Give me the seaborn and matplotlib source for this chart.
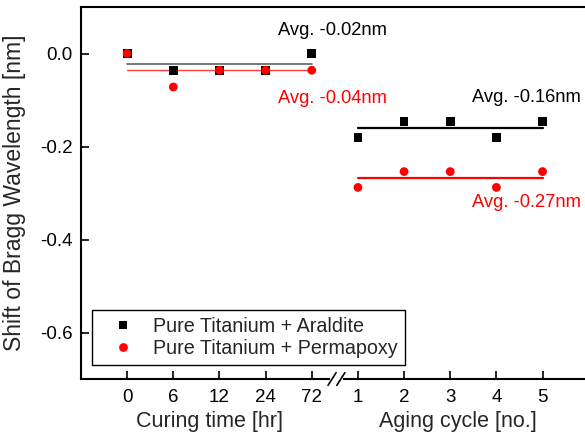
import numpy as np
import pandas as pd
import matplotlib
matplotlib.use("Agg")
import matplotlib.pyplot as plt
import seaborn as sns
from matplotlib.transforms import blended_transform_factory

# ---- data ----
curing_labels = ["0", "6", "12", "24", "72"]
aging_labels = ["1", "2", "3", "4", "5"]
araldite_curing = [0.0, -0.036, -0.036, -0.036, 0.0]
permapoxy_curing = [0.0, -0.072, -0.036, -0.036, -0.036]
araldite_aging = [-0.181, -0.146, -0.146, -0.181, -0.146]
permapoxy_aging = [-0.288, -0.254, -0.254, -0.288, -0.254]
series_names = ["Pure Titanium + Araldite", "Pure Titanium + Permapoxy"]
series_colors = ["#000000", "#ff0000"]
avg_texts = ["Avg. -0.02nm", "Avg. -0.04nm", "Avg. -0.16nm", "Avg. -0.27nm"]
x_titles = ["Curing time [hr]", "Aging cycle [no.]"]
y_title = "Shift of Bragg Wavelength [nm]"

tick_labels = curing_labels + aging_labels
pos = np.arange(len(tick_labels))

df = pd.DataFrame({
    "pos": np.concatenate([pos, pos]),
    "value": araldite_curing + araldite_aging + permapoxy_curing + permapoxy_aging,
    "series": [series_names[0]] * 10 + [series_names[1]] * 10,
})

sns.set_style("ticks")
plt.rcParams["font.family"] = ["Liberation Sans", "DejaVu Sans"]

fig = plt.figure(figsize=(5.85, 4.37), dpi=100)
ax = fig.add_axes([81 / 585, 1 - 379 / 437, 1 - 81 / 585, 372 / 437])

# average lines
n = len(curing_labels)
ax.plot([pos[0], pos[n - 1]], [np.mean(araldite_curing)] * 2, color="#606060", lw=1.2, zorder=2)
ax.plot([pos[0], pos[n - 1]], [np.mean(permapoxy_curing)] * 2, color="#ff4040", lw=1.0, zorder=2)
ax.plot([pos[n], pos[-1]], [np.mean(araldite_aging)] * 2, color="#000000", lw=1.6, zorder=2)
ax.plot([pos[n], pos[-1]], [np.mean(permapoxy_aging)] * 2, color="#ff0000", lw=1.6, zorder=2)

sns.scatterplot(data=df, x="pos", y="value", hue="series", style="series",
                palette=dict(zip(series_names, series_colors)),
                markers=dict(zip(series_names, ["s", "o"])),
                s=40, linewidth=0, ax=ax, zorder=3)

ax.set_xlim(-1, 9.92)
ax.set_ylim(-0.7, 0.1)
ax.set_xticks(pos)
ax.set_xticklabels(tick_labels)
ax.set_yticks([0.0, -0.2, -0.4, -0.6])
ax.set_yticklabels(["0.0", "-0.2", "-0.4", "-0.6"])
ax.tick_params(direction="in", length=6, width=1.2, labelsize=13.5, colors="black")
ax.tick_params(axis="x", pad=7)
ax.tick_params(axis="y", pad=6)
ax.set_xlabel("")
ax.set_ylabel(y_title, fontsize=16.5)
ax.yaxis.set_label_coords(-0.11, 0.5)

for side in ["left", "top", "bottom"]:
    ax.spines[side].set_linewidth(1.5)
    ax.spines[side].set_color("black")
ax.spines["right"].set_visible(False)

# axis titles
bt = blended_transform_factory(ax.transData, ax.transAxes)
ax.text(1.78, -0.113, x_titles[0], transform=bt, ha="center", va="center", fontsize=15.5)
ax.text(7.17, -0.113, x_titles[1], transform=bt, ha="center", va="center", fontsize=15.5)

# axis break marks
ax.plot([4.44, 4.63], [0, 0], transform=bt, color="white", lw=3, clip_on=False, zorder=5)
for cx in [4.44, 4.63]:
    ax.plot([cx - 0.087, cx + 0.087], [-0.017, 0.017], transform=bt, color="black",
            lw=1.2, clip_on=False, zorder=6)

# annotations
ax.text(4.44, 0.049, avg_texts[0], color="black", ha="center", va="center", fontsize=13.2)
ax.text(4.44, -0.097, avg_texts[1], color="#ff0000", ha="center", va="center", fontsize=13.2)
ax.text(8.66, -0.095, avg_texts[2], color="black", ha="center", va="center", fontsize=13.2)
ax.text(8.66, -0.32, avg_texts[3], color="#ff0000", ha="center", va="center", fontsize=13.2)

leg = ax.legend(loc="lower left", bbox_to_anchor=(0.022, 0.038), borderaxespad=0,
                fontsize=14.2, frameon=True, fancybox=False, edgecolor="black",
                handlelength=2.4, handletextpad=0.35, labelspacing=0.15, borderpad=0.35,
                markerscale=1.0)
leg.get_frame().set_linewidth(1.0)
leg.get_frame().set_alpha(1)

fig.savefig("out.png", dpi=100)
